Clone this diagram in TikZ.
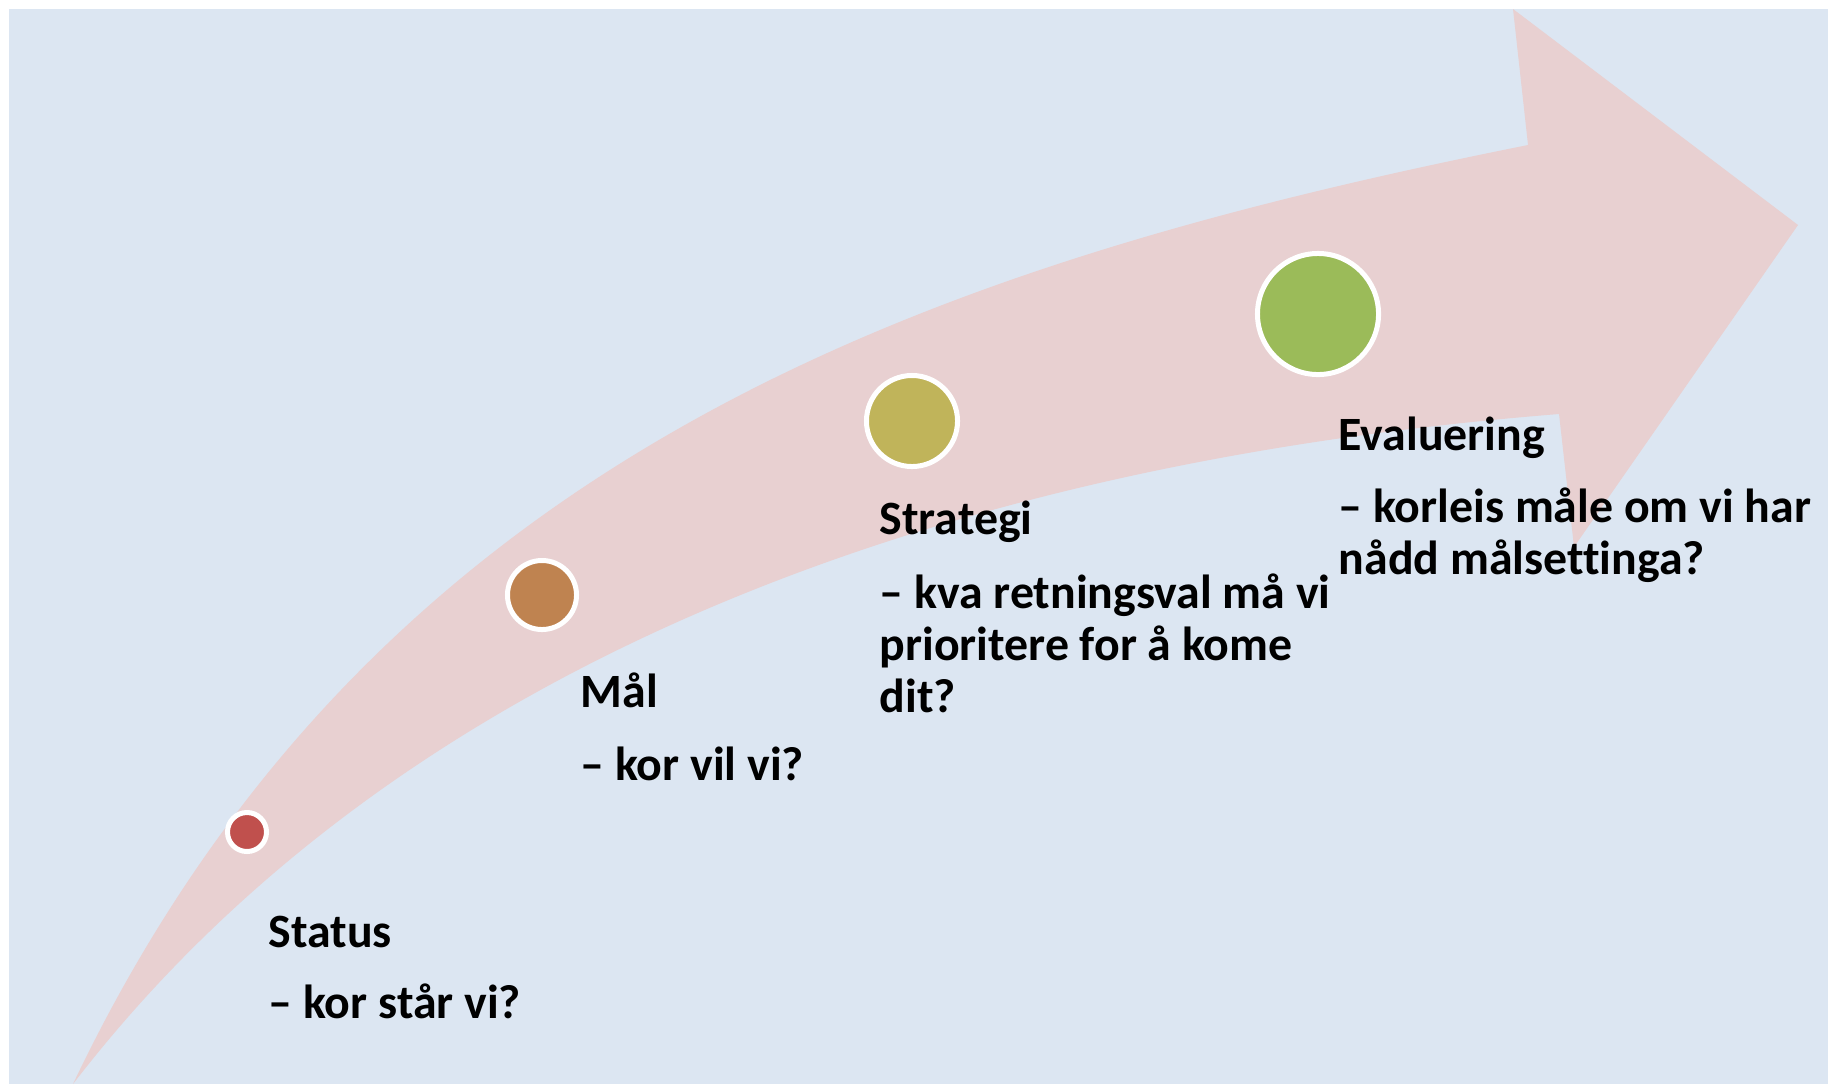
\documentclass[tikz,border=0pt]{standalone}
\usepackage{fontspec}
\setmainfont[Ligatures=NoCommon]{Carlito}
\definecolor{bgblue}{HTML}{DCE6F2}
\definecolor{arrowpink}{HTML}{E8D0D1}
\definecolor{dotred}{HTML}{C0504D}
\definecolor{dotorange}{HTML}{BF8350}
\definecolor{dotolive}{HTML}{C0B45A}
\definecolor{dotgreen}{HTML}{9BBB59}
\tikzset{
  dot/.style={circle, draw=white, line width=0.05cm, inner sep=0pt},
  lbl/.style={anchor=base west, inner sep=0pt, font=\fontsize{13.6}{15}\selectfont\bfseries, text=black}
}
\begin{document}
\begin{tikzpicture}[x=0.01cm, y=-0.01cm]
\useasboundingbox (0,0) rectangle (1828,1084);
\fill[white] (0,0) rectangle (1828,1084);
\fill[bgblue] (9,9) rectangle (1828,1084);
% curved arrow
\fill[arrowpink]
  (73,1084) .. controls (373,454) and (928,265) .. (1528,145)
  -- (1513,9) -- (1798,225) -- (1574,547) -- (1559,414)
  .. controls (1159,446) and (473,564) .. (73,1084)
  -- cycle;
% dots
\node[dot, fill=dotred, minimum size=0.39cm] (d1) at (247,832) {};
\node[dot, fill=dotorange, minimum size=0.69cm] (d2) at (542,595) {};
\node[dot, fill=dotolive, minimum size=0.91cm] (d3) at (912,421) {};
\node[dot, fill=dotgreen, minimum size=1.21cm] (d4) at (1318,314) {};
% labels
\node[lbl] (status) at (268,947) {Status};
\node[lbl] (statusq) at (268,1018) {– kor står vi?};
\node[lbl] (mal) at (580,707) {Mål};
\node[lbl] (malq) at (580,780) {– kor vil vi?};
\node[lbl] (strat) at (879,534) {Strategi};
\node[lbl] (stratq1) at (879,608) {– kva retningsval må vi};
\node[lbl] (stratq2) at (879,660) {prioritere for å kome};
\node[lbl] (stratq3) at (879,712) {dit?};
\node[lbl] (eval) at (1338,450) {Evaluering};
\node[lbl] (evalq1) at (1338,522) {– korleis måle om vi har};
\node[lbl] (evalq2) at (1338,574) {nådd målsettinga?};
\end{tikzpicture}
\end{document}
